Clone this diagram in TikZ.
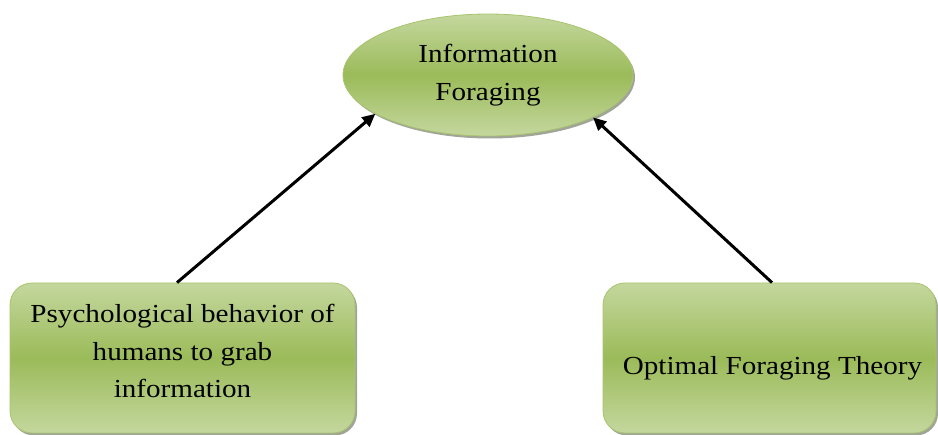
\documentclass[tikz,border=0pt]{standalone}
\usepackage{fontspec}
\setmainfont{Liberation Serif}[FakeStretch=1.12]
\usetikzlibrary{shapes.geometric,arrows.meta,shadows}

\definecolor{leafLight}{HTML}{C4D79E}
\definecolor{leafDark}{HTML}{9BBB59}
\definecolor{leafEdge}{HTML}{A9C46E}

% lift the ink of a text block without changing the space it reserves
\newcommand{\liftby}[2]{\raisebox{#1}[\height][\depth]{#2}}

\tikzset{
  greenfill/.style={
    top color=leafLight, bottom color=leafLight, middle color=leafDark,
    draw=leafEdge, line width=0.8pt,
    drop shadow={shadow xshift=2pt, shadow yshift=-2.5pt, opacity=0.45, fill=black!70!leafDark}
  },
  topic/.style={greenfill, ellipse, inner sep=0pt,
    minimum width=290pt, minimum height=122pt, align=center,
    font=\fontsize{26}{37.5}\selectfont},
  source/.style={greenfill, rounded corners=22pt, inner sep=0pt,
    minimum width=345pt, minimum height=150pt,
    font=\fontsize{26}{37.5}\selectfont},
  feed/.style={line width=3pt, -{Triangle[length=13pt,width=12pt]}}
}

\begin{document}
\begin{tikzpicture}[x=1pt,y=-1pt]
  \useasboundingbox (0,0) rectangle (938,435);

  \node[topic] (ell) at (488,75) {Information\\Foraging};

  \node[source] (lb) at (182.5,358)
    {\liftby{5pt}{\begin{tabular}{@{}c@{}}Psychological behavior of\\humans to grab\\information\end{tabular}}};
  \node[source, minimum width=333pt] (rb) at (769.5,358)
    {\liftby{-10pt}{\hspace{6pt}Optimal Foraging Theory}};

  \draw[feed] ([xshift=-5.5pt]lb.north) -- (ell.199);
  \draw[feed] ([xshift=2.5pt]rb.north) -- (ell.338.6);
\end{tikzpicture}
\end{document}
